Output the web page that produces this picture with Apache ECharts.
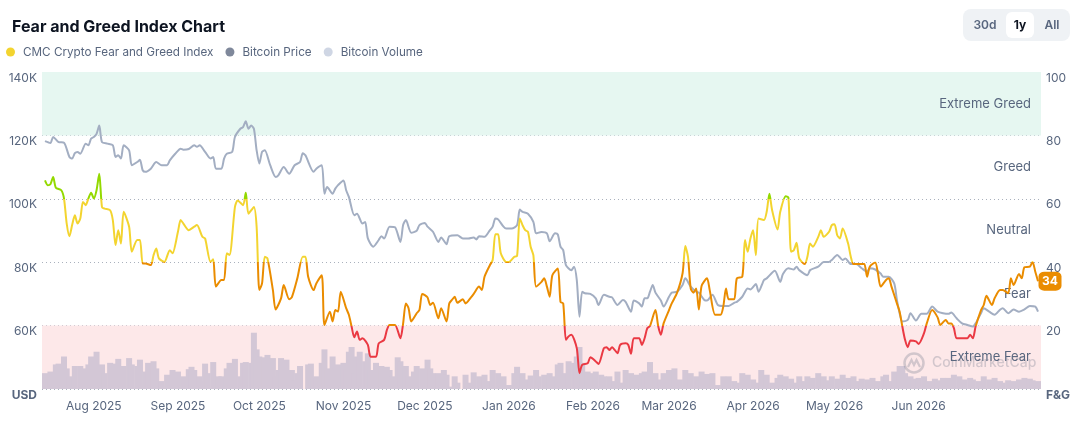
<!DOCTYPE html>
<html>
<head>
<meta charset="utf-8">
<script src="https://cdn.jsdelivr.net/npm/echarts@6/dist/echarts.min.js"></script>
<style>
  html, body { margin: 0; padding: 0; background: #ffffff; }
  #chart { width: 1081px; height: 439px; }
</style>
</head>
<body>
<div id="chart"></div>
<script>
// ---------------- DATA ----------------
// CMC Crypto Fear and Greed Index (0-100)
const fgPoints = [
  ['2025-07-14',65.8],['2025-07-15',64.3],['2025-07-16',64.6],['2025-07-17',66.9],['2025-07-18',63.5],['2025-07-20',62.7],
  ['2025-07-21',60.1],['2025-07-22',52.2],['2025-07-23',48.2],['2025-07-24',51.7],['2025-07-25',54.8],['2025-07-26',52.2],
  ['2025-07-27',53.8],['2025-07-28',59],['2025-07-29',58],['2025-07-30',60.1],['2025-07-31',61.9],['2025-08-01',60.1],
  ['2025-08-02',62.7],['2025-08-03',67.9],['2025-08-04',57.4],['2025-08-05',56.9],['2025-08-07',56.4],['2025-08-08',53.3],
  ['2025-08-09',45.4],['2025-08-10',50.1],['2025-08-11',45.9],['2025-08-12',55.9],['2025-08-14',51.2],['2025-08-15',43.3],
  ['2025-08-17',47],['2025-08-18',47],['2025-08-19',39.6],['2025-08-20',39.6],['2025-08-22',39.1],['2025-08-23',42.2],
  ['2025-08-24',44.3],['2025-08-25',41.2],['2025-08-27',40.1],['2025-08-29',43.8],['2025-08-30',42.8],['2025-09-01',49.6],
  ['2025-09-02',53.3],['2025-09-03',52.2],['2025-09-05',50.1],['2025-09-07',51.2],['2025-09-08',51.7],['2025-09-10',48],
  ['2025-09-11',47.5],['2025-09-13',40.1],['2025-09-14',40.9],['2025-09-15',32.3],['2025-09-17',34.4],['2025-09-18',34.4],
  ['2025-09-19',42.8],['2025-09-20',42.3],['2025-09-22',57.4],['2025-09-23',59.5],['2025-09-25',58],['2025-09-26',61.9],
  ['2025-09-27',55.3],['2025-09-29',57.4],['2025-09-30',51.2],['2025-10-01',31.2],['2025-10-02',33.3],['2025-10-03',41.7],
  ['2025-10-04',41.2],['2025-10-06',31.2],['2025-10-07',25.1],['2025-10-09',28.6],['2025-10-10',32.8],['2025-10-12',28.3],
  ['2025-10-13',29],['2025-10-15',34.9],['2025-10-17',41.7],['2025-10-18',41.7],['2025-10-19',35.4],['2025-10-21',31.2],
  ['2025-10-22',33.3],['2025-10-24',35.9],['2025-10-25',20.2],['2025-10-27',24.4],['2025-10-28',21.3],['2025-10-29',24.9],
  ['2025-10-30',24.4],['2025-10-31',30.7],['2025-11-02',25.5],['2025-11-03',23.4],['2025-11-04',19.7],['2025-11-05',16.3],
  ['2025-11-06',18.1],['2025-11-07',15.5],['2025-11-08',16],['2025-11-10',13.9],['2025-11-11',10.2],['2025-11-13',10.2],
  ['2025-11-14',14.4],['2025-11-16',15.5],['2025-11-17',18.6],['2025-11-18',20.2],['2025-11-20',20.2],['2025-11-22',16],
  ['2025-11-23',20.7],['2025-11-24',27],['2025-11-25',25.5],['2025-11-26',21.3],['2025-11-28',23.9],['2025-11-29',24.9],
  ['2025-11-30',30],['2025-12-01',29.6],['2025-12-02',28.9],['2025-12-03',26.5],['2025-12-04',27.2],['2025-12-06',22.3],
  ['2025-12-07',25.5],['2025-12-09',21.3],['2025-12-10',27],['2025-12-11',28.1],['2025-12-12',29.1],['2025-12-13',27.2],
  ['2025-12-15',28.3],['2025-12-16',27],['2025-12-18',28.9],['2025-12-19',30],['2025-12-21',32.3],['2025-12-22',31.2],
  ['2025-12-23',35.4],['2025-12-25',39.1],['2025-12-26',40.7],['2025-12-27',48.8],['2025-12-28',48.8],['2025-12-29',42.8],
  ['2025-12-31',40.1],['2026-01-01',40.1],['2026-01-03',41.7],['2026-01-04',42],['2026-01-05',53.8],['2026-01-06',51.7],
  ['2026-01-07',50.1],['2026-01-08',49.6],['2026-01-09',44.9],['2026-01-10',42.2],['2026-01-11',32.3],['2026-01-13',33.8],
  ['2026-01-14',34.9],['2026-01-15',32.3],['2026-01-16',29.1],['2026-01-17',35.9],['2026-01-19',38],['2026-01-20',27.5],
  ['2026-01-21',27],['2026-01-22',15.5],['2026-01-23',16.6],['2026-01-24',17.1],['2026-01-26',12.9],['2026-01-27',5],
  ['2026-01-28',7.6],['2026-01-30',8.1],['2026-01-31',10],['2026-02-02',8.7],['2026-02-03',7.9],['2026-02-05',12.9],
  ['2026-02-06',13.2],['2026-02-07',12.3],['2026-02-08',13.2],['2026-02-10',11.3],['2026-02-11',13.9],['2026-02-13',14.4],
  ['2026-02-14',13.9],['2026-02-15',11.1],['2026-02-16',16],['2026-02-18',16],['2026-02-19',13.9],['2026-02-20',16],
  ['2026-02-21',19.2],['2026-02-22',19.9],['2026-02-24',24.9],['2026-02-25',19.9],['2026-02-26',17.1],['2026-02-27',20.7],
  ['2026-03-01',24.9],['2026-03-02',27],['2026-03-04',30.4],['2026-03-06',36.5],['2026-03-07',45.1],['2026-03-08',41.7],
  ['2026-03-09',31.7],['2026-03-10',30.4],['2026-03-11',31.7],['2026-03-12',25.1],['2026-03-13',32.5],['2026-03-15',34.9],
  ['2026-03-16',31.2],['2026-03-18',23.4],['2026-03-20',23.4],['2026-03-21',26],['2026-03-22',31.7],['2026-03-23',28.3],
  ['2026-03-25',28.3],['2026-03-26',34.9],['2026-03-28',35.4],['2026-03-29',47],['2026-03-30',43.3],['2026-03-31',47.5],
  ['2026-04-01',50.1],['2026-04-02',42.2],['2026-04-03',53.8],['2026-04-05',53.3],['2026-04-06',55.9],['2026-04-07',61.6],
  ['2026-04-08',56.4],['2026-04-10',50.3],['2026-04-11',55.9],['2026-04-13',60.8],['2026-04-14',60.4],['2026-04-15',43.3],
  ['2026-04-16',43.8],['2026-04-17',46.1],['2026-04-18',41.2],['2026-04-20',39.4],['2026-04-21',41.7],['2026-04-22',45.9],
  ['2026-04-23',44.9],['2026-04-25',48],['2026-04-26',50.1],['2026-04-27',48],['2026-04-29',49.6],['2026-04-30',51.7],
  ['2026-05-01',52],['2026-05-02',48.5],['2026-05-03',47.5],['2026-05-04',50.6],['2026-05-06',45.9],['2026-05-07',41.7],
  ['2026-05-08',39.4],['2026-05-10',39.4],['2026-05-11',39.4],['2026-05-12',39.4],['2026-05-13',35.4],['2026-05-14',38.6],
  ['2026-05-16',39.9],['2026-05-17',36.5],['2026-05-18',32.3],['2026-05-20',34.4],['2026-05-21',34.9],['2026-05-22',32.3],
  ['2026-05-24',27],['2026-05-25',24.4],['2026-05-26',19.7],['2026-05-27',15.5],['2026-05-28',13.2],['2026-05-29',15.3],
  ['2026-05-31',15],['2026-06-01',14.2],['2026-06-03',17.6],['2026-06-04',20.7],['2026-06-06',24.9],['2026-06-08',22.6],
  ['2026-06-09',20.2],['2026-06-11',21.8],['2026-06-12',20.7],['2026-06-13',20.7],['2026-06-14',19.2],['2026-06-15',16],
  ['2026-06-17',16],['2026-06-19',16],['2026-06-20',17.1],['2026-06-21',16],['2026-06-22',19.7],['2026-06-24',24.9],
  ['2026-06-25',26.5],['2026-06-26',29.4],['2026-06-28',26.5],['2026-06-29',28.6],['2026-07-01',31.2],['2026-07-02',31.2],
  ['2026-07-04',30.2],['2026-07-05',34.9],['2026-07-06',32.8],['2026-07-08',36.3],['2026-07-09',34.9],['2026-07-10',38.4],
  ['2026-07-12',38.6],['2026-07-13',40.1],['2026-07-14',37],['2026-07-15',34]
];

// Bitcoin price, thousands of USD
const btcPriceK = [
  ['2025-07-14',118.2],['2025-07-16',117.6],['2025-07-17',119.5],['2025-07-19',117.9],['2025-07-21',117.7],['2025-07-23',113.2],
  ['2025-07-24',112.7],['2025-07-25',114.4],['2025-07-26',114.8],['2025-07-27',114.2],['2025-07-29',117.4],['2025-07-30',116.9],
  ['2025-07-31',119],['2025-08-01',119.5],['2025-08-02',120.5],['2025-08-03',123.1],['2025-08-04',117.9],['2025-08-06',117.4],
  ['2025-08-08',116.9],['2025-08-09',113.2],['2025-08-10',113.7],['2025-08-11',112.7],['2025-08-12',116.9],['2025-08-14',115.3],
  ['2025-08-15',110.6],['2025-08-17',111.6],['2025-08-18',112.3],['2025-08-19',109],['2025-08-20',108.5],['2025-08-22',109.5],
  ['2025-08-24',111.6],['2025-08-26',110.6],['2025-08-28',110.6],['2025-08-29',112.1],['2025-08-31',114.2],['2025-09-02',115.8],
  ['2025-09-03',115.5],['2025-09-05',115.7],['2025-09-07',116.9],['2025-09-08',116.4],['2025-09-09',116.9],['2025-09-11',114.8],
  ['2025-09-13',112.7],['2025-09-14',113.2],['2025-09-15',109.5],['2025-09-17',109.5],['2025-09-18',112.7],['2025-09-19',114.2],
  ['2025-09-21',114.8],['2025-09-22',119.5],['2025-09-24',122.1],['2025-09-25',122.6],['2025-09-26',124.5],['2025-09-27',122.1],
  ['2025-09-28',123.1],['2025-09-29',122.1],['2025-09-30',115.3],['2025-10-01',111.1],['2025-10-02',114.8],['2025-10-03',115.3],
  ['2025-10-05',110.6],['2025-10-07',106.9],['2025-10-08',107.4],['2025-10-10',110],['2025-10-12',107.9],['2025-10-14',110.6],
  ['2025-10-16',111.6],['2025-10-17',114.4],['2025-10-18',113.7],['2025-10-21',108.5],['2025-10-22',109.5],['2025-10-24',110.6],
  ['2025-10-25',101.6],['2025-10-26',103.7],['2025-10-28',101.6],['2025-10-29',103.2],['2025-10-30',104.3],['2025-11-01',105.8],
  ['2025-11-02',102.7],['2025-11-03',100.6],['2025-11-05',94.8],['2025-11-06',95.3],['2025-11-08',92.2],['2025-11-09',92.7],
  ['2025-11-10',87.5],['2025-11-12',84.9],['2025-11-14',87],['2025-11-15',88.2],['2025-11-16',87.5],['2025-11-18',91.2],
  ['2025-11-20',91],['2025-11-22',86.4],['2025-11-23',91.7],['2025-11-24',93.3],['2025-11-26',89.3],['2025-11-28',89.9],
  ['2025-11-29',91.7],['2025-12-01',92.4],['2025-12-02',91.2],['2025-12-04',89.6],['2025-12-06',86.4],['2025-12-07',87.8],
  ['2025-12-09',85.7],['2025-12-10',88.2],['2025-12-13',88.5],['2025-12-15',87.5],['2025-12-17',87.5],['2025-12-19',87.8],
  ['2025-12-20',87.2],['2025-12-21',88.2],['2025-12-23',88],['2025-12-25',90.1],['2025-12-26',91.2],['2025-12-27',93.8],
  ['2025-12-28',93.5],['2025-12-30',91.2],['2025-12-31',90.6],['2026-01-02',90.6],['2026-01-04',91.7],['2026-01-05',96.6],
  ['2026-01-06',95.9],['2026-01-08',95.3],['2026-01-10',92.7],['2026-01-11',89.1],['2026-01-13',89.5],['2026-01-15',89.1],
  ['2026-01-16',86.6],['2026-01-18',89.1],['2026-01-19',88.8],['2026-01-20',84.9],['2026-01-21',83.8],['2026-01-22',79.1],
  ['2026-01-24',77.5],['2026-01-25',78.6],['2026-01-26',74.4],['2026-01-27',62.8],['2026-01-28',70.7],['2026-01-29',70.2],
  ['2026-01-31',70],['2026-02-02',68.6],['2026-02-03',66.5],['2026-02-05',69.7],['2026-02-07',69.1],['2026-02-08',68.9],
  ['2026-02-10',66.5],['2026-02-12',68.1],['2026-02-13',67.5],['2026-02-15',64.4],['2026-02-16',67.9],['2026-02-18',67],
  ['2026-02-19',66],['2026-02-20',68.6],['2026-02-21',68.6],['2026-02-22',70.7],['2026-02-23',72.8],['2026-02-24',70.4],
  ['2026-02-26',67.9],['2026-02-27',66],['2026-03-01',69.1],['2026-03-02',70.4],['2026-03-04',70.7],['2026-03-06',72.8],
  ['2026-03-07',74.9],['2026-03-09',72.3],['2026-03-11',70.7],['2026-03-12',70.4],['2026-03-14',68.1],['2026-03-15',67.9],
  ['2026-03-17',69.7],['2026-03-19',66.5],['2026-03-21',66.2],['2026-03-23',66.2],['2026-03-25',67.2],['2026-03-26',67.5],
  ['2026-03-28',69.1],['2026-03-30',71.7],['2026-03-31',71.4],['2026-04-02',73.1],['2026-04-03',70.7],['2026-04-05',74.4],
  ['2026-04-06',74.9],['2026-04-09',77.3],['2026-04-11',73.8],['2026-04-12',76.3],['2026-04-14',78.1],['2026-04-16',77.7],
  ['2026-04-17',78.6],['2026-04-18',77.5],['2026-04-21',75.9],['2026-04-22',77.5],['2026-04-25',78.6],['2026-04-27',80.1],
  ['2026-04-29',80.1],['2026-04-30',80.7],['2026-05-02',82.3],['2026-05-04',80.7],['2026-05-05',81.2],['2026-05-07',79.4],
  ['2026-05-09',79.4],['2026-05-11',78.1],['2026-05-13',77],['2026-05-14',78.1],['2026-05-16',77.7],['2026-05-18',76.4],
  ['2026-05-19',75.4],['2026-05-21',75.4],['2026-05-23',73.3],['2026-05-24',68.1],['2026-05-25',63.9],['2026-05-26',61.3],
  ['2026-05-28',61.8],['2026-05-29',63.9],['2026-05-31',61.6],['2026-06-02',63.7],['2026-06-04',63.7],['2026-06-06',66],
  ['2026-06-08',64.4],['2026-06-10',63.9],['2026-06-12',63.7],['2026-06-13',64.1],['2026-06-15',62.3],['2026-06-17',60.7],
  ['2026-06-19',60.2],['2026-06-21',59.7],['2026-06-22',60.7],['2026-06-24',63.9],['2026-06-25',65.5],['2026-06-27',64.4],
  ['2026-06-29',63.4],['2026-07-01',65],['2026-07-02',65.5],['2026-07-04',63.9],['2026-07-06',65.1],['2026-07-08',64.4],
  ['2026-07-10',65.1],['2026-07-12',66.2],['2026-07-14',66],['2026-07-15',64.4]
];

// Bitcoin volume, billions of USD
const btcVolumeB = [
  ['2025-07-14',20],['2025-07-16',22],['2025-07-18',31],['2025-07-19',32],['2025-07-21',41],['2025-07-22',26],['2025-07-23',16],
  ['2025-07-25',29],['2025-07-27',29],['2025-07-29',26],['2025-07-30',31],['2025-07-31',41],['2025-08-01',33],['2025-08-02',47],
  ['2025-08-04',31],['2025-08-05',20],['2025-08-07',33],['2025-08-09',32],['2025-08-10',38],['2025-08-12',29],['2025-08-14',39],
  ['2025-08-15',31],['2025-08-17',29],['2025-08-18',37],['2025-08-20',22],['2025-08-21',33],['2025-08-23',35],['2025-08-24',26],
  ['2025-08-26',10],['2025-08-28',18],['2025-08-30',24],['2025-09-01',22],['2025-09-03',16],['2025-09-05',25],['2025-09-06',28],
  ['2025-09-07',24],['2025-09-09',16],['2025-09-10',10],['2025-09-11',32],['2025-09-12',20],['2025-09-14',34],['2025-09-16',16],
  ['2025-09-17',16],['2025-09-19',26],['2025-09-20',33],['2025-09-22',38],['2025-09-24',16],['2025-09-25',33],['2025-09-26',34],
  ['2025-09-28',33],['2025-09-29',71],['2025-09-30',50],['2025-10-01',41],['2025-10-03',40],['2025-10-04',43],['2025-10-06',39],
  ['2025-10-07',16],['2025-10-08',24],['2025-10-09',39],['2025-10-11',37],['2025-10-13',24],['2025-10-14',11],['2025-10-15',20],
  ['2025-10-16',29],['2025-10-19',31],['2025-10-20',32],['2025-10-21',14],['2025-10-22',16],['2025-10-24',33],['2025-10-25',50],
  ['2025-10-26',26],['2025-10-28',41],['2025-10-29',26],['2025-10-30',31],['2025-11-01',33],['2025-11-02',25],['2025-11-03',47],
  ['2025-11-04',53],['2025-11-05',20],['2025-11-06',41],['2025-11-07',47],['2025-11-09',35],['2025-11-10',45],['2025-11-11',24],
  ['2025-11-12',16],['2025-11-13',33],['2025-11-15',29],['2025-11-17',28],['2025-11-18',24],['2025-11-19',16],['2025-11-21',40],
  ['2025-11-22',35],['2025-11-24',29],['2025-11-25',16],['2025-11-27',22],['2025-11-28',29],['2025-11-30',26],['2025-12-02',37],
  ['2025-12-03',26],['2025-12-04',20],['2025-12-06',20],['2025-12-08',24],['2025-12-09',18],['2025-12-10',3],['2025-12-12',16],
  ['2025-12-13',8],['2025-12-16',18],['2025-12-17',8],['2025-12-19',21],['2025-12-21',16],['2025-12-23',18],['2025-12-24',10],
  ['2025-12-26',24],['2025-12-28',20],['2025-12-30',16],['2026-01-01',5],['2026-01-03',20],['2026-01-04',28],['2026-01-06',20],
  ['2026-01-08',12],['2026-01-09',17],['2026-01-11',24],['2026-01-12',16],['2026-01-14',18],['2026-01-15',5],['2026-01-16',20],
  ['2026-01-17',16],['2026-01-19',31],['2026-01-20',33],['2026-01-22',20],['2026-01-23',35],['2026-01-25',33],['2026-01-26',41],
  ['2026-01-27',53],['2026-01-28',33],['2026-01-30',22],['2026-01-31',20],['2026-02-02',22],['2026-02-04',18],['2026-02-05',16],
  ['2026-02-07',16],['2026-02-09',10],['2026-02-10',22],['2026-02-11',8],['2026-02-13',24],['2026-02-15',20],['2026-02-17',18],
  ['2026-02-19',20],['2026-02-20',22],['2026-02-21',16],['2026-02-22',34],['2026-02-24',20],['2026-02-26',12],['2026-02-27',20],
  ['2026-03-01',24],['2026-03-03',26],['2026-03-05',12],['2026-03-07',24],['2026-03-09',20],['2026-03-11',16],['2026-03-12',11],
  ['2026-03-13',22],['2026-03-15',19],['2026-03-17',20],['2026-03-19',5],['2026-03-21',16],['2026-03-23',16],['2026-03-25',10],
  ['2026-03-26',8],['2026-03-28',20],['2026-03-30',18],['2026-04-01',12],['2026-04-03',8],['2026-04-04',24],['2026-04-06',18],
  ['2026-04-08',8],['2026-04-10',14],['2026-04-11',18],['2026-04-13',16],['2026-04-15',13],['2026-04-17',8],['2026-04-18',16],
  ['2026-04-19',10],['2026-04-21',16],['2026-04-23',14],['2026-04-25',20],['2026-04-27',16],['2026-04-28',11],['2026-04-30',16],
  ['2026-05-02',13],['2026-05-04',18],['2026-05-06',14],['2026-05-08',16],['2026-05-10',10],['2026-05-11',13],['2026-05-13',12],
  ['2026-05-15',14],['2026-05-17',10],['2026-05-19',16],['2026-05-20',18],['2026-05-22',10],['2026-05-23',22],['2026-05-25',29],
  ['2026-05-26',29],['2026-05-27',20],['2026-05-29',16],['2026-05-30',13],['2026-06-01',14],['2026-06-03',16],['2026-06-05',10],
  ['2026-06-07',13],['2026-06-08',11],['2026-06-10',14],['2026-06-12',14],['2026-06-14',18],['2026-06-16',16],['2026-06-18',12],
  ['2026-06-20',14],['2026-06-21',12],['2026-06-23',10],['2026-06-25',16],['2026-06-27',12],['2026-06-29',14],['2026-07-01',10],
  ['2026-07-02',8],['2026-07-04',11],['2026-07-06',10],['2026-07-08',12],['2026-07-10',14],['2026-07-12',13],['2026-07-13',11],
  ['2026-07-15',10]
];

const monthTickLabels = ['Aug 2025','Sep 2025','Oct 2025','Nov 2025','Dec 2025','Jan 2026','Feb 2026','Mar 2026','Apr 2026','May 2026','Jun 2026'];
const priceTicksK = [40, 60, 80, 100, 120, 140];
const fgTicks = [0, 20, 40, 60, 80, 100];
const bandEdges = [0, 20, 40, 60, 80, 100];
const bandLabels = ['Extreme Fear', 'Fear', 'Neutral', 'Greed', 'Extreme Greed'];
const bandColors = ['#EA3943', '#EA8C00', '#F3D42F', '#93D900', '#16C784'];
const bandFills = ['#fde8e9', 'rgba(0,0,0,0)', 'rgba(0,0,0,0)', 'rgba(0,0,0,0)', '#e6f7f1'];
const rangeStart = '2025-07-14';
const rangeEnd = '2026-07-15';

// ---------------- CHART ----------------
const FONT = 'Inter, "Noto Sans", sans-serif';
const GREY = '#58667e';
const MONTHS = ['Jan','Feb','Mar','Apr','May','Jun','Jul','Aug','Sep','Oct','Nov','Dec'];
const chart = echarts.init(document.getElementById('chart'), null, { renderer: 'canvas' });

const lastFg = fgPoints[fgPoints.length - 1];

const markAreaData = bandLabels.map((name, i) => [
  { name: name, yAxis: bandEdges[i], itemStyle: { color: bandFills[i] } },
  { yAxis: bandEdges[i + 1] }
]);

const WM = 'rgba(112,120,138,0.30)';

const option = {
  backgroundColor: '#ffffff',
  textStyle: { fontFamily: FONT },
  animation: false,
  title: {
    text: 'Fear and Greed Index Chart',
    left: 7, top: 14,
    textStyle: { fontFamily: FONT, fontSize: 16, fontWeight: 700, color: '#0d1421' }
  },
  legend: {
    left: 6, top: 46, padding: 0,
    icon: 'circle', itemWidth: 9, itemHeight: 9, itemGap: 12,
    textStyle: { fontFamily: FONT, fontSize: 11.7, color: GREY, padding: [0, 0, 0, 3] },
    data: [
      { name: 'CMC Crypto Fear and Greed Index', itemStyle: { color: '#F3D42F' } },
      { name: 'Bitcoin Price', itemStyle: { color: '#7f889b' } },
      { name: 'Bitcoin Volume', itemStyle: { color: '#cfd6e4' } }
    ]
  },
  grid: { left: 42, right: 40, top: 72, bottom: 50, containLabel: false },
  visualMap: {
    show: false,
    seriesIndex: 2,
    dimension: 1,
    pieces: [
      { lt: 20, color: bandColors[0] },
      { gte: 20, lt: 40, color: bandColors[1] },
      { gte: 40, lt: 60, color: bandColors[2] },
      { gte: 60, lt: 80, color: bandColors[3] },
      { gte: 80, color: bandColors[4] }
    ]
  },
  xAxis: {
    type: 'time',
    min: rangeStart, max: rangeEnd,
    splitNumber: 12,
    minInterval: 28 * 24 * 3600 * 1000,
    axisLine: { show: false },
    axisTick: { show: false },
    splitLine: { show: false },
    axisLabel: {
      color: GREY, fontSize: 12, fontFamily: FONT, margin: 11,
      hideOverlap: false,
      formatter: function (val) {
        const d = new Date(val);
        const s = MONTHS[d.getMonth()] + ' ' + d.getFullYear();
        return monthTickLabels.indexOf(s) >= 0 && d.getDate() === 1 ? s : '';
      }
    }
  },
  yAxis: [
    {
      type: 'value', position: 'left',
      min: priceTicksK[0], max: priceTicksK[priceTicksK.length - 1], interval: 20,
      axisLine: { show: false }, axisTick: { show: false },
      splitLine: { show: true, lineStyle: { type: [1, 3], color: '#aab1bd', width: 1 } },
      axisLabel: {
        margin: 5, color: GREY, fontSize: 12, fontFamily: FONT, verticalAlign: 'top',
        formatter: function (v) { return v === priceTicksK[0] ? '{b|USD}' : v + 'K'; },
        rich: { b: { fontWeight: 700, color: GREY, fontSize: 12, fontFamily: FONT } }
      }
    },
    {
      type: 'value', position: 'right',
      min: fgTicks[0], max: fgTicks[fgTicks.length - 1], interval: 20,
      axisLine: { show: false }, axisTick: { show: false }, splitLine: { show: false },
      axisLabel: {
        margin: 5, color: GREY, fontSize: 12, fontFamily: FONT, verticalAlign: 'top',
        formatter: function (v) { return v === fgTicks[0] ? '{b|F&G}' : String(v); },
        rich: { b: { fontWeight: 700, color: GREY, fontSize: 12, fontFamily: FONT } }
      }
    },
    {
      type: 'value', position: 'left', show: false,
      min: 0, max: 400, splitLine: { show: false }
    }
  ],
  series: [
    {
      name: 'Bitcoin Volume',
      type: 'bar',
      xAxisIndex: 0, yAxisIndex: 2,
      data: btcVolumeB,
      barWidth: 6,
      itemStyle: { color: '#d3c7d6' },
      z: 3
    },
    {
      name: 'Bitcoin Price',
      type: 'line',
      yAxisIndex: 0,
      data: btcPriceK,
      showSymbol: false,
      smooth: 0.25,
      lineStyle: { color: '#a3aec2', width: 2 },
      itemStyle: { color: '#a3aec2' },
      z: 4
    },
    {
      name: 'CMC Crypto Fear and Greed Index',
      type: 'line',
      yAxisIndex: 1,
      data: fgPoints,
      showSymbol: false,
      smooth: 0.25,
      lineStyle: { width: 2 },
      z: 5,
      markArea: {
        silent: true,
        z: 1,
        label: {
          show: true, position: 'insideRight', distance: 10,
          color: GREY, fontSize: 13, fontFamily: FONT
        },
        data: markAreaData
      },
      markPoint: {
        silent: true,
        symbol: 'roundRect',
        symbolSize: [23, 19],
        symbolOffset: [12, 0],
        itemStyle: { color: '#EA8C00' },
        label: { show: true, color: '#ffffff', fontWeight: 700, fontSize: 12, fontFamily: FONT },
        data: [{ coord: lastFg, value: lastFg[1], itemStyle: { color: '#EA8C00' } }]
      }
    }
  ],
  graphic: [
    {
      type: 'group', left: 963, top: 9, z: 10,
      children: [
        { type: 'rect', shape: { x: 0, y: 0, width: 107, height: 32, r: 8 }, style: { fill: '#eff2f5' } },
        { type: 'rect', shape: { x: 43, y: 3, width: 28, height: 26, r: 6 }, style: { fill: '#ffffff' } },
        { type: 'text', style: { text: '30d', x: 22, y: 16, align: 'center', verticalAlign: 'middle', fill: GREY, font: '600 12px ' + FONT } },
        { type: 'text', style: { text: '1y', x: 57, y: 16, align: 'center', verticalAlign: 'middle', fill: '#0d1421', font: '700 12px ' + FONT } },
        { type: 'text', style: { text: 'All', x: 89, y: 16, align: 'center', verticalAlign: 'middle', fill: GREY, font: '600 12px ' + FONT } }
      ]
    },
    {
      type: 'group', left: 902, top: 351, z: 6, silent: true,
      children: [
        { type: 'circle', z: 6, shape: { cx: 11, cy: 11, r: 9.5 }, style: { fill: 'none', stroke: WM, lineWidth: 2.5 } },
        { type: 'polyline', z: 6, shape: { points: [[5, 15], [8.5, 8], [11, 13], [13.5, 8], [17, 15]] }, style: { fill: 'none', stroke: WM, lineWidth: 2.2 } },
        { type: 'text', z: 6, style: { text: 'CoinMarketCap', x: 29, y: 11, verticalAlign: 'middle', fill: WM, font: '500 14px ' + FONT } }
      ]
    }
  ]
};

chart.setOption(option);
</script>
</body>
</html>
